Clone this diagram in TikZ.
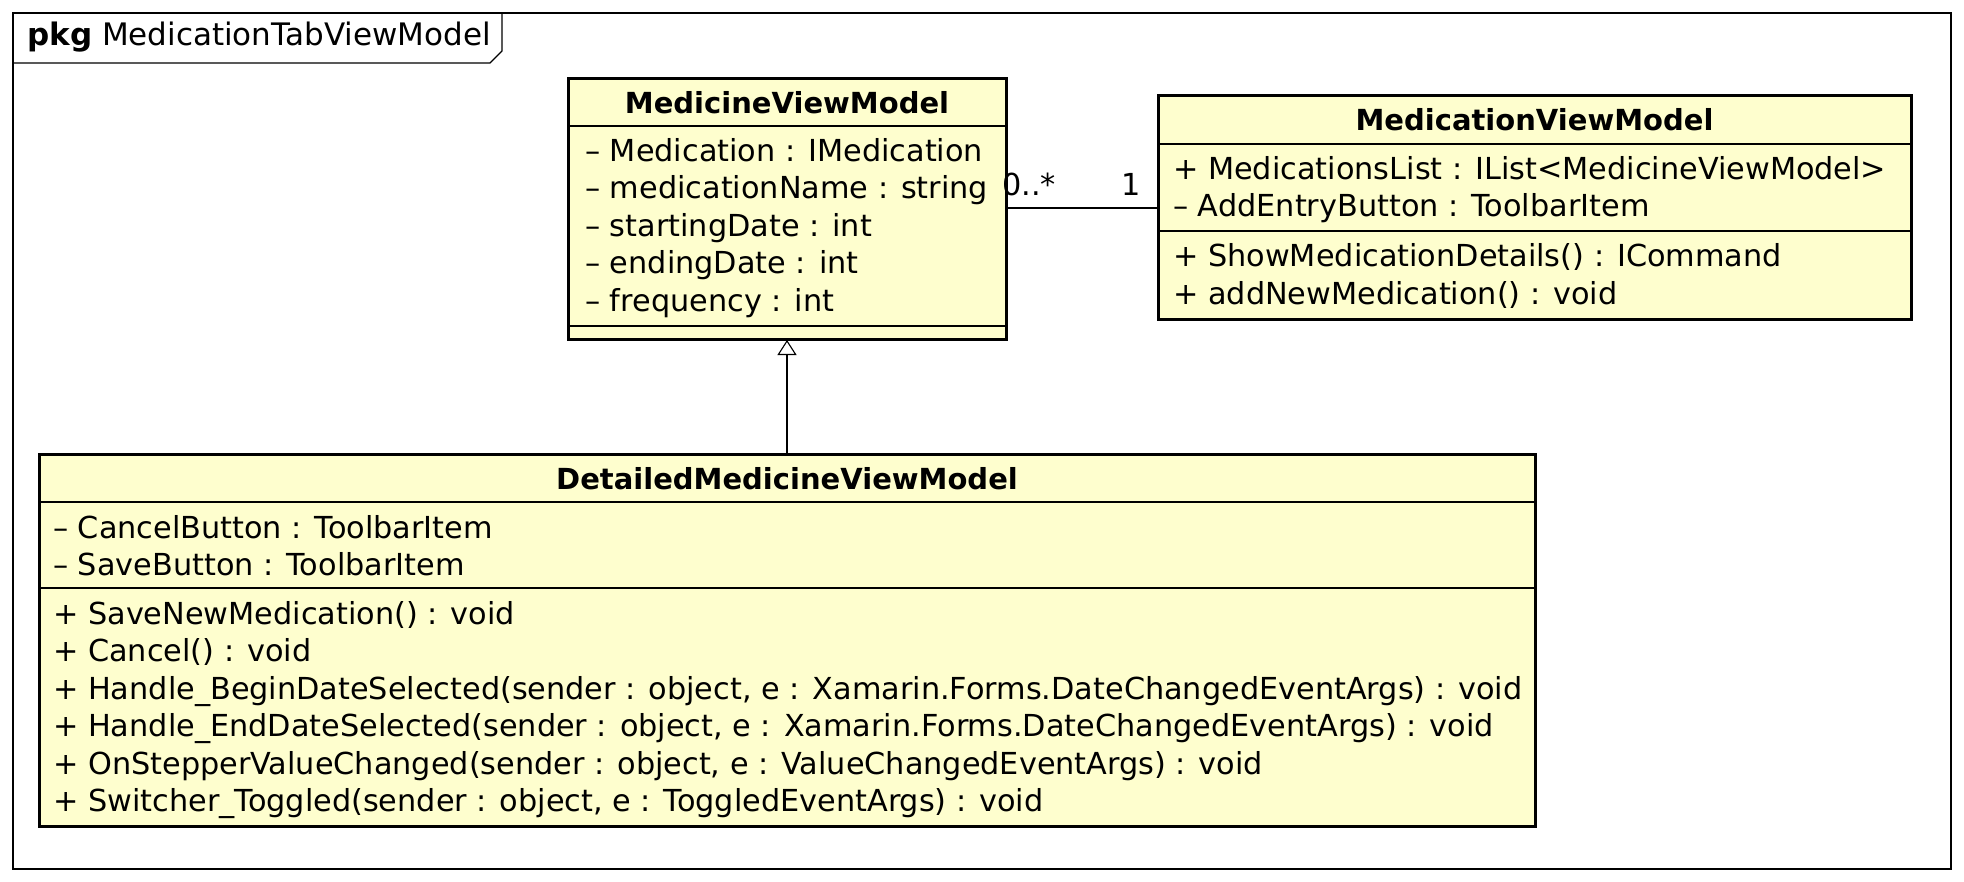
\documentclass[tikz,border=0pt]{standalone}
\usepackage{fontspec}
\setmainfont{DejaVu Sans}
\usetikzlibrary{arrows.meta}
\definecolor{umlfill}{HTML}{FEFECE}
\begin{document}
\begin{tikzpicture}[x=1pt,y=-1pt,
  cls/.style={draw=black, line width=3pt, fill=umlfill, rectangle, anchor=north west, inner sep=0pt, outer sep=0pt},
  sep/.style={draw=black, line width=1.1pt},
  txt/.style={anchor=base west, inner sep=0pt, font=\fontsize{30.3}{36}\selectfont},
  ttl/.style={anchor=base, inner sep=0pt, font=\fontsize{29}{36}\selectfont\bfseries},
  conn/.style={draw=black, line width=1.1pt},
  frame/.style={draw=black, line width=1.2pt, rectangle, anchor=north west, inner sep=0pt, outer sep=0pt},
]
\useasboundingbox (0,0) rectangle (1964,882);
% package frame
\node[frame, minimum width=1938pt, minimum height=856pt] (pkg) at (13,13) {};
\draw[line width=1.2pt] (13,63) -- (490,63) -- (502,51) -- (502,13);
\node[txt, font=\fontsize{31}{36}\selectfont] (pkgtitle) at (27,46) {\textbf{pkg} MedicationTabViewModel};

% MedicineViewModel
\node[cls, minimum width=438pt, minimum height=261pt] (medicine) at (568,79) {};
\draw[sep] (medicine.west |- 0,126) -- (medicine.east |- 0,126);
\draw[sep] (medicine.west |- 0,326) -- (medicine.east |- 0,326);
\node[ttl] (medicineT) at (medicine.north |- 0,114) {MedicineViewModel};
\node[txt] (ma1) at (585,162) {– Medication : IMedication};
\node[txt] (ma2) at (585,199) {– medicationName : string};
\node[txt] (ma3) at (585,237) {– startingDate : int};
\node[txt] (ma4) at (585,274) {– endingDate : int};
\node[txt] (ma5) at (585,312) {– frequency : int};

% MedicationViewModel
\node[cls, minimum width=753pt, minimum height=224pt] (medication) at (1158,96) {};
\draw[sep] (medication.west |- 0,144) -- (medication.east |- 0,144);
\draw[sep] (medication.west |- 0,231) -- (medication.east |- 0,231);
\node[ttl] (medicationT) at (medication.north |- 0,131) {MedicationViewModel};
\node[txt] (da1) at (1173,180) {+ MedicationsList : IList<MedicineViewModel>};
\node[txt] (da2) at (1173,217) {– AddEntryButton : ToolbarItem};
\node[txt] (dm1) at (1173,267) {+ ShowMedicationDetails() : ICommand};
\node[txt] (dm2) at (1173,305) {+ addNewMedication() : void};

% DetailedMedicineViewModel
\node[cls, minimum width=1496pt, minimum height=372pt] (detailed) at (39,454) {};
\draw[sep] (detailed.west |- 0,502) -- (detailed.east |- 0,502);
\draw[sep] (detailed.west |- 0,588) -- (detailed.east |- 0,588);
\node[ttl] (detailedT) at (detailed.north |- 0,489) {DetailedMedicineViewModel};
\node[txt] (ea1) at (53,538) {– CancelButton : ToolbarItem};
\node[txt] (ea2) at (53,575) {– SaveButton : ToolbarItem};
\node[txt] (em1) at (53,624) {+ SaveNewMedication() : void};
\node[txt] (em2) at (53,661) {+ Cancel() : void};
\node[txt] (em3) at (53,699) {+ Handle\_BeginDateSelected(sender : object, e : Xamarin.Forms.DateChangedEventArgs) : void};
\node[txt] (em4) at (53,736) {+ Handle\_EndDateSelected(sender : object, e : Xamarin.Forms.DateChangedEventArgs) : void};
\node[txt] (em5) at (53,774) {+ OnStepperValueChanged(sender : object, e : ValueChangedEventArgs) : void};
\node[txt] (em6) at (53,811) {+ Switcher\_Toggled(sender : object, e : ToggledEventArgs) : void};

% association
\draw[conn] (medicine.east |- 0,208) -- (medication.west |- 0,208);
\node[txt] (mult1) at (1002,196) {0..*};
\node[txt, anchor=base east] (mult2) at (1141,196) {1};

% generalization
\draw[conn, -{Triangle[open, width=19pt, length=15pt, line width=1.1pt, fill=white]}] (detailed.north) -- (medicine.south);
\end{tikzpicture}
\end{document}
